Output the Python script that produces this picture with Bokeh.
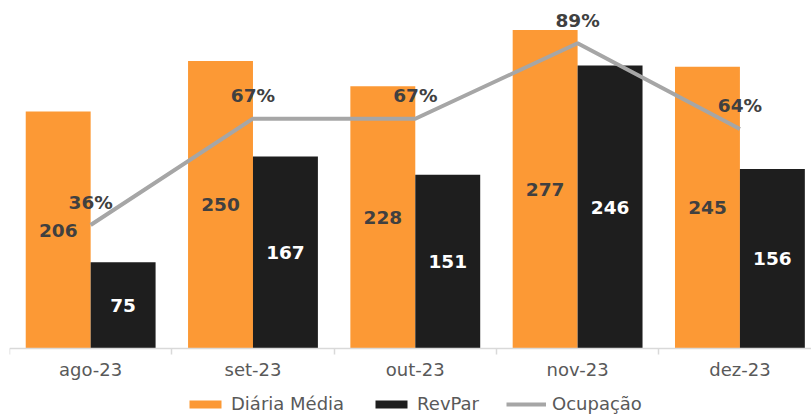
from bokeh.plotting import figure
from bokeh.models import ColumnDataSource, Range1d, LinearAxis, FixedTicker, Legend, LegendItem
from bokeh.transform import dodge
from bokeh.embed import file_html
from bokeh.resources import INLINE
from bokeh.core.properties import value

meses = ["ago-23", "set-23", "out-23", "nov-23", "dez-23"]
diaria = [206, 250, 228, 277, 245]
revpar = [75, 167, 151, 246, 156]
ocupacao = [0.36, 0.67, 0.67, 0.89, 0.64]

ORANGE = "#FC9935"
BLACK = "#1E1E1E"
GRAY = "#A6A6A6"
LABEL = "#404040"
AXIS_TXT = "#595959"
FONT = "DejaVu Sans"

pos = [i + 0.5 for i in range(len(meses))]
src = ColumnDataSource(dict(
    x=pos,
    diaria=diaria,
    revpar=revpar,
    ocup=ocupacao,
    diaria_mid=[v / 2 for v in diaria],
    revpar_mid=[v / 2 for v in revpar],
    diaria_lbl=[str(v) for v in diaria],
    revpar_lbl=[str(v) for v in revpar],
    ocup_lbl=[f"{round(v * 100)}%" for v in ocupacao],
))

p = figure(width=811, height=414, output_backend="svg", toolbar_location=None,
           x_range=Range1d(0, 4.941), y_range=Range1d(-57.4, 302.6),
           x_axis_type=None, y_axis_type=None,
           min_border_left=9, min_border_right=0, min_border_top=0, min_border_bottom=0)
p.outline_line_color = None
p.extra_y_ranges = {"occ": Range1d(-0.1924, 1.0146)}

r_d = p.vbar(x=dodge("x", -0.2, range=p.x_range), top="diaria", width=0.4, source=src,
             fill_color=ORANGE, line_color=None)
r_r = p.vbar(x=dodge("x", 0.2, range=p.x_range), top="revpar", width=0.4, source=src,
             fill_color=BLACK, line_color=None)
r_o = p.line(x="x", y="ocup", y_range_name="occ", source=src, line_color=GRAY, line_width=4)

p.text(x=dodge("x", -0.2, range=p.x_range), y="diaria_mid", text="diaria_lbl", source=src,
       text_align="center", text_baseline="middle", text_font=value(FONT),
       text_font_style="bold", text_font_size="18.5px", text_color=LABEL)
p.text(x=dodge("x", 0.2, range=p.x_range), y="revpar_mid", text="revpar_lbl", source=src,
       text_align="center", text_baseline="middle", text_font=value(FONT),
       text_font_style="bold", text_font_size="18.5px", text_color="white")
p.text(x="x", y="ocup", y_range_name="occ", text="ocup_lbl", source=src, y_offset=-23,
       text_align="center", text_baseline="middle", text_font=value(FONT),
       text_font_style="bold", text_font_size="18.5px", text_color=LABEL)

ax_ticks = LinearAxis(ticker=FixedTicker(ticks=[0, 1, 2, 3, 4, 5]), fixed_location=0,
                      major_label_overrides={i: "" for i in range(6)},
                      major_label_standoff=0, major_tick_in=0, major_tick_out=6,
                      minor_tick_line_color=None, axis_line_color="#D9D9D9",
                      major_tick_line_color="#D9D9D9", axis_line_width=1.5,
                      major_tick_line_width=1.5)
ax_lbl = LinearAxis(ticker=FixedTicker(ticks=pos), fixed_location=0,
                    major_label_overrides={x: m for x, m in zip(pos, meses)},
                    axis_line_color=None, major_tick_line_color=None, minor_tick_line_color=None,
                    major_tick_out=0, major_tick_in=0,
                    major_label_standoff=11, major_label_text_font_size="18px",
                    major_label_text_color=AXIS_TXT, major_label_text_font=FONT)
p.add_layout(ax_ticks, "below")
p.add_layout(ax_lbl, "below")

legend = Legend(items=[LegendItem(label="Diária Média", renderers=[r_d]),
                       LegendItem(label="RevPar", renderers=[r_r]),
                       LegendItem(label="Ocupação", renderers=[r_o])],
                orientation="horizontal", location=(176, 0),
                glyph_width=40, glyph_height=10, label_standoff=6, spacing=27,
                label_text_font_size="18px", label_text_color=AXIS_TXT,
                label_text_font=FONT, border_line_color=None,
                background_fill_alpha=0, padding=0, margin=0)
p.add_layout(legend)

open("out.html", "w").write(file_html(p, INLINE))
